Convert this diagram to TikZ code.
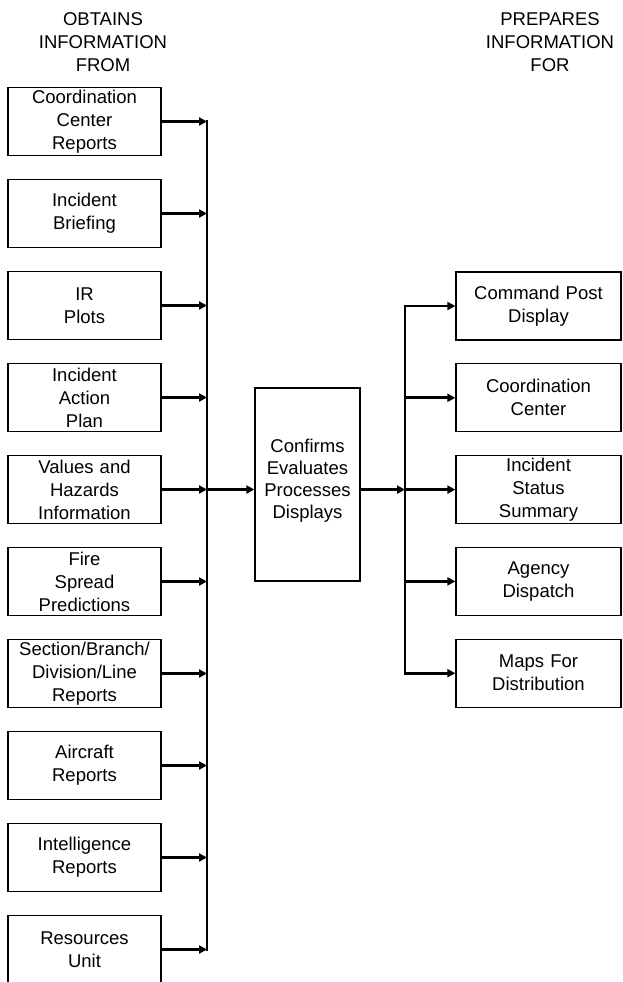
\documentclass[tikz,border=0pt]{standalone}
\usepackage{fontspec}
\setmainfont{Liberation Sans}
\usetikzlibrary{arrows.meta,positioning}
\begin{document}
\begin{tikzpicture}[x=1pt,y=-1pt,font=\fontsize{18.5}{23}\selectfont,>={Triangle[length=8pt,width=8pt]},
 fuente/.style={draw,line width=1.3pt,text width=145pt,align=center,minimum width=153pt,minimum height=68pt,inner xsep=4pt,inner ysep=0pt},
 destino/.style={fuente,text width=157pt,minimum width=165pt},
 proceso/.style={draw,line width=1.3pt,align=center,font=\fontsize{18.5}{22}\selectfont,minimum width=105pt,minimum height=193pt,inner sep=0pt,text depth=12pt},
 titulo/.style={align=center},
 flecha/.style={->,line width=2.8pt},
 barra/.style={line width=2.8pt,line cap=rect}]
\useasboundingbox (0,0) rectangle (622,982);
\node[titulo] (obtiene) at (103,42) {OBTAINS\\INFORMATION\\FROM};
\node[titulo] (prepara) at (550,42) {PREPARES\\INFORMATION\\FOR};
\node[fuente] (coord) at (84.5,121.5) {Coordination\\Center\\Reports};
\node[fuente,below=22.7pt of coord] (briefing) {Incident\\Briefing};
\node[fuente,below=22.7pt of briefing] (planos) {IR\\Plots};
\node[fuente,below=22.7pt of planos] (plan) {Incident\\Action\\Plan};
\node[fuente,below=22.7pt of plan] (valores) {Values and\\Hazards\\Information};
\node[fuente,below=22.7pt of valores] (fuego) {Fire\\Spread\\Predictions};
\node[fuente,below=22.7pt of fuego] (seccion) {Section/Branch/\\Division/Line\\Reports};
\node[fuente,below=22.7pt of seccion] (aereo) {Aircraft\\Reports};
\node[fuente,below=22.7pt of aereo] (intel) {Intelligence\\Reports};
\node[fuente,below=22.7pt of intel] (recursos) {Resources\\Unit};
\node[proceso] (centro) at (307.5,484.5) {Confirms\\Evaluates\\Processes\\Displays};
\node[destino] (puesto) at (538.5,306) {Command Post\\Display};
\node[destino,below=22.5pt of puesto] (centrocoord) {Coordination\\Center};
\node[destino,below=22.5pt of centrocoord] (estado) {Incident\\Status\\Summary};
\node[destino,below=22.5pt of estado] (agencia) {Agency\\Dispatch};
\node[destino,below=22.5pt of agencia] (mapas) {Maps For\\Distribution};
\coordinate (izq) at (207,0);
\coordinate (der) at (405,0);
% entradas
\draw[flecha] (coord.east) -- (coord.east -| izq);
\draw[flecha] (briefing.east) -- (briefing.east -| izq);
\draw[flecha] (planos.east) -- (planos.east -| izq);
\draw[flecha] (plan.east) -- (plan.east -| izq);
\draw[flecha] (valores.east) -- (valores.east -| izq);
\draw[flecha] (fuego.east) -- (fuego.east -| izq);
\draw[flecha] (seccion.east) -- (seccion.east -| izq);
\draw[flecha] (aereo.east) -- (aereo.east -| izq);
\draw[flecha] (intel.east) -- (intel.east -| izq);
\draw[flecha] (recursos.east) -- (recursos.east -| izq);
\draw[barra] (coord.east -| izq) -- (recursos.east -| izq);
\draw[flecha] (valores.east -| izq) -- (valores.east -| centro.west);
% salidas
\draw[flecha] (estado.west -| centro.east) -- (estado.west -| der);
\draw[barra] (puesto.west -| der) -- (mapas.west -| der);
\draw[flecha] (puesto.west -| der) -- (puesto.west);
\draw[flecha] (centrocoord.west -| der) -- (centrocoord.west);
\draw[flecha] (estado.west -| der) -- (estado.west);
\draw[flecha] (agencia.west -| der) -- (agencia.west);
\draw[flecha] (mapas.west -| der) -- (mapas.west);
\end{tikzpicture}
\end{document}
